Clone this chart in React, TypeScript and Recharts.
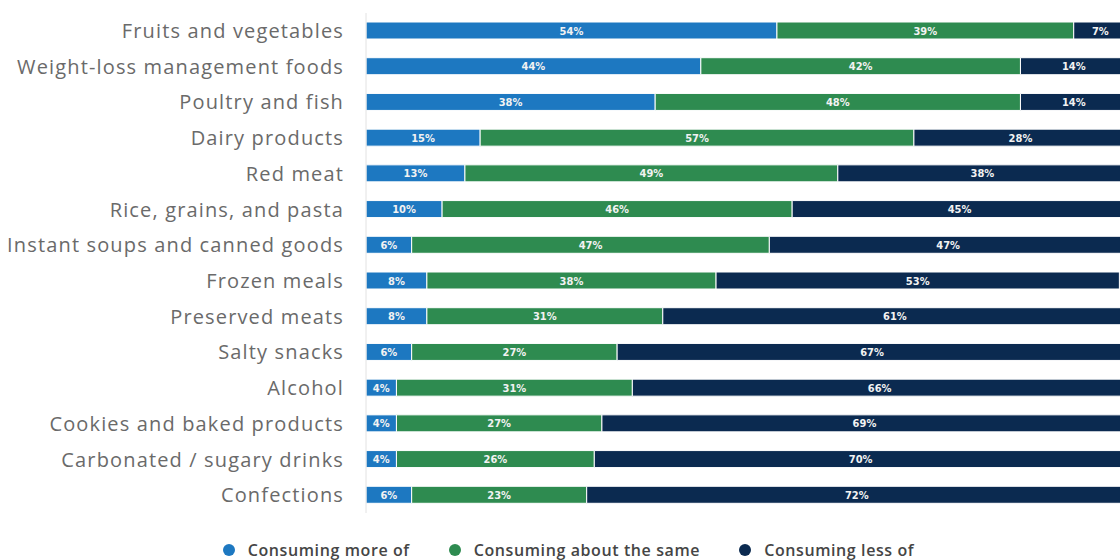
import React from "react";
import { BarChart, Bar, XAxis, YAxis, Legend, LabelList } from "recharts";

const categories = [
  "Fruits and vegetables",
  "Weight-loss management foods",
  "Poultry and fish",
  "Dairy products",
  "Red meat",
  "Rice, grains, and pasta",
  "Instant soups and canned goods",
  "Frozen meals",
  "Preserved meats",
  "Salty snacks",
  "Alcohol",
  "Cookies and baked products",
  "Carbonated / sugary drinks",
  "Confections",
];
const moreOf = [54, 44, 38, 15, 13, 10, 6, 8, 8, 6, 4, 4, 4, 6];
const aboutSame = [39, 42, 48, 57, 49, 46, 47, 38, 31, 27, 31, 27, 26, 23];
const lessOf = [7, 14, 14, 28, 38, 45, 47, 53, 61, 67, 66, 69, 70, 72];

const seriesNames = ["Consuming more of", "Consuming about the same", "Consuming less of"];
const seriesColors = ["#1d78c1", "#2e8b50", "#0b2a50"];

const data = categories.map((c, i) => ({
  name: c,
  more: moreOf[i],
  same: aboutSame[i],
  less: lessOf[i],
}));

const keys = ["more", "same", "less"];

const renderLabel = (props: any) => {
  const { x, y, width, height, value } = props;
  return (
    <text
      x={x + width / 2}
      y={y + height / 2 + 4}
      textAnchor="middle"
      fill="#f2f2f2"
      fontFamily="'DejaVu Sans Condensed', 'DejaVu Sans', sans-serif"
      fontWeight="bold"
      fontSize={11}
    >
      {value}%
    </text>
  );
};

const renderLegend = () => (
  <div
    style={{
      display: "flex",
      justifyContent: "center",
      alignItems: "center",
      paddingTop: 28,
      paddingLeft: 10,
      fontFamily: "'Open Sans', sans-serif",
      fontWeight: 600,
      fontSize: 16,
      letterSpacing: 0.6,
      color: "#454545",
      lineHeight: "18px",
    }}
  >
    {seriesNames.map((n, i) => (
      <div key={n} style={{ display: "flex", alignItems: "center", marginRight: i < 2 ? 39 : 0 }}>
        <span
          style={{
            display: "inline-block",
            width: 12,
            height: 12,
            borderRadius: 6,
            background: seriesColors[i],
            marginRight: 13,
          }}
        />
        <span>{n}</span>
      </div>
    ))}
  </div>
);

export default function App() {
  return (
    <div style={{ position: "absolute", left: 0, top: 0, width: 1120, height: 560, overflow: "hidden", background: "#fff" }}>
      <div style={{ width: 1130, height: 560 }}>
        <BarChart
          width={1130}
          height={560}
          data={data}
          layout="vertical"
          margin={{ top: 13, right: 3, bottom: 0, left: 0 }}
          barSize={17}
        >
          <XAxis type="number" domain={[0, 100]} allowDataOverflow hide />
          <YAxis
            type="category"
            dataKey="name"
            width={366}
            tickLine={false}
            tickMargin={16}
            axisLine={{ stroke: "#e2e2e2" }}
            interval={0}
            tick={{ fill: "#6a6a6a", fontSize: 20, fontFamily: "'Open Sans', sans-serif", letterSpacing: 1.15 }}
          />
          <Legend verticalAlign="bottom" height={47} content={renderLegend} />
          {keys.map((k, i) => (
            <Bar
              key={k}
              dataKey={k}
              name={seriesNames[i]}
              stackId="a"
              fill={seriesColors[i]}
              stroke="#ffffff"
              strokeWidth={1}
              isAnimationActive={false}
            >
              <LabelList dataKey={k} content={renderLabel} />
            </Bar>
          ))}
        </BarChart>
      </div>
    </div>
  );
}
